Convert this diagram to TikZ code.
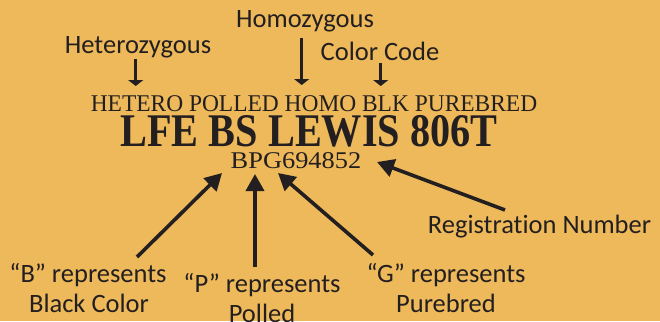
\documentclass[tikz,border=0pt]{standalone}
\usepackage{graphicx}
\usepackage{fontspec}
\setmainfont{Liberation Serif}
\newfontfamily\labelfont[Ligatures=NoCommon]{Carlito}
\usetikzlibrary{arrows.meta}
\definecolor{bg}{HTML}{EDB95A}
\definecolor{ink}{HTML}{231F20}
\tikzset{
  lbl/.style={anchor=base, inner sep=0pt, text=ink, font=\labelfont\fontsize{26.5}{30}\selectfont, align=center},
  serif/.style={anchor=base, inner sep=0pt, text=ink},
  toparrow/.style={draw=ink, line width=2.6pt, -{Triangle[width=15pt,length=6pt]}},
  botarrow/.style={draw=ink, line width=3.6pt, -{Triangle[width=18pt,length=17pt]}}
}
\begin{document}
\begin{tikzpicture}[x=1pt,y=-1pt]
\useasboundingbox (0,0) rectangle (660,321);
\fill[bg] (0,0) rectangle (660,321);
\begin{scope}
\clip (0,0) rectangle (660,321);
% top labels
\node[lbl] (het) at (138,53) {Heterozygous};
\node[lbl] (hom) at (305,28) {Homozygous};
\node[lbl] (col) at (380,60) {Color Code};
% serif text
\node[serif, font=\fontsize{24}{26}\selectfont] (line1) at (314,111) {\scalebox{0.976}[1]{HETERO POLLED HOMO BLK PUREBRED}};
\node[serif, font=\bfseries\fontsize{46.8}{50}\selectfont] (name) at (309,146) {\scalebox{0.86}[1]{LFE BS LEWIS 806T}};
\node[serif, font=\fontsize{24}{26}\selectfont] (reg) at (296,168) {\scalebox{1.1}[1]{BPG694852}};
% bottom labels
\node[lbl] (regl) at (539.5,233) {Registration Number};
\node[lbl] (bl1) at (88,282) {“B” represents};
\node[lbl] (bl2) at (89,312) {Black Color};
\node[lbl] (pl1) at (262,292) {“P” represents};
\node[lbl] (pl2) at (262,322) {Polled};
\node[lbl] (gl1) at (446,282) {“G” represents};
\node[lbl] (gl2) at (446,312) {Purebred};
% arrow coordinates
\coordinate (hetA) at (135.7,59);
\coordinate (hetB) at (135.7,86);
\coordinate (homA) at (301.7,38);
\coordinate (homB) at (301.7,85);
\coordinate (colA) at (380.7,63);
\coordinate (colB) at (380.7,86);
\coordinate (bA) at (137,257);
\coordinate (bB) at (222,173);
\coordinate (pA) at (255,267);
\coordinate (pB) at (255,174);
\coordinate (gA) at (373,255);
\coordinate (gB) at (278,173);
\coordinate (rA) at (505,210);
\coordinate (rB) at (377,162);
\draw[toparrow] (hetA) -- (hetB);
\draw[toparrow] (homA) -- (homB);
\draw[toparrow] (colA) -- (colB);
\draw[botarrow] (bA) -- (bB);
\draw[botarrow] (pA) -- (pB);
\draw[botarrow] (gA) -- (gB);
\draw[botarrow] (rA) -- (rB);
\end{scope}
\end{tikzpicture}
\end{document}
